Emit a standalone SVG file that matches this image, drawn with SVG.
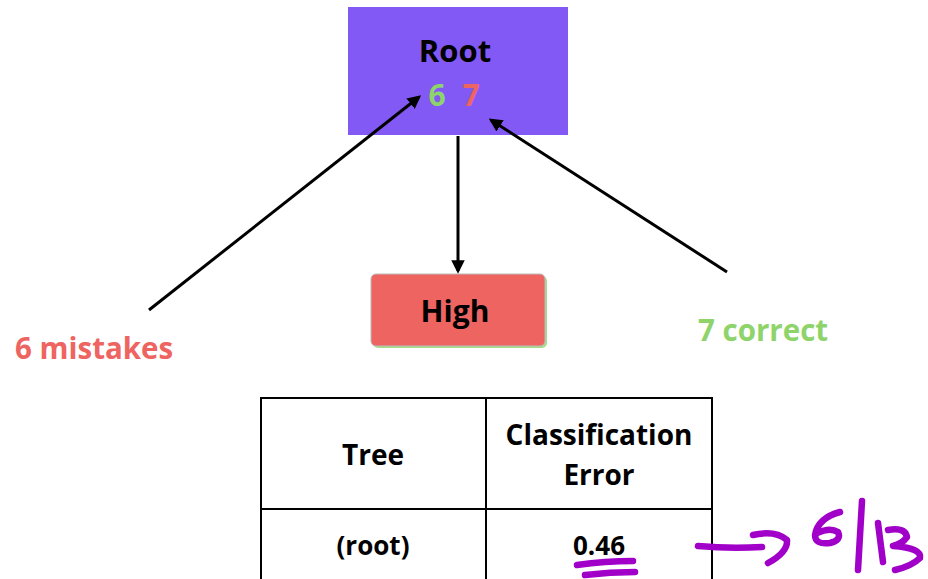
<svg xmlns="http://www.w3.org/2000/svg" width="928" height="579" viewBox="0 0 928 579">
  <style>
    .t { font-family: "Open Sans", "Noto Sans", "Liberation Sans", sans-serif; font-weight: 700; }
    .edge { stroke: #000; stroke-width: 3; fill: none; }
    .ink { stroke: #a000c8; stroke-width: 6.5; fill: none; stroke-linecap: round; stroke-linejoin: round; }
    .grid { stroke: #000; stroke-width: 2; fill: none; }
  </style>
  <defs>
    <marker id="arr" viewBox="0 0 10 10" refX="8" refY="5" markerWidth="4.5" markerHeight="4.5" orient="auto">
      <path d="M0,0 L10,5 L0,10 Z" fill="#000"/>
    </marker>
  </defs>
  <rect width="928" height="579" fill="#fff"/>

  <g id="root">
    <rect x="348" y="7" width="220" height="128" fill="#8259f4"/>
    <text class="t" x="455" y="62" font-size="31" text-anchor="middle" fill="#000">Root</text>
    <text class="t" x="437" y="106" font-size="30" text-anchor="middle" fill="#8ed46b">6</text>
    <text class="t" x="471" y="106" font-size="30" text-anchor="middle" fill="#ee6461">7</text>
  </g>

  <g id="high">
    <rect x="373" y="276" width="174" height="72" rx="5" fill="#8ed46b" opacity="0.8"/>
    <rect x="371" y="274" width="174" height="72" rx="5" fill="#ee6461" stroke="#bbb" stroke-width="1"/>
    <text class="t" x="455" y="322" font-size="30" text-anchor="middle" fill="#000">High</text>
  </g>

  <g id="mistakes-label">
    <text class="t" x="15" y="359" font-size="29.5" fill="#ee6461">6 mistakes</text>
  </g>
  <g id="correct-label">
    <text class="t" x="698" y="341" font-size="29.5" fill="#8ed46b">7 correct</text>
  </g>

  <g id="connectors">
    <line class="edge" x1="149" y1="310" x2="419" y2="97" marker-end="url(#arr)"/>
    <line class="edge" x1="727" y1="272" x2="491" y2="120" marker-end="url(#arr)"/>
    <line class="edge" x1="458" y1="136" x2="458" y2="271" marker-end="url(#arr)"/>
  </g>

  <g id="table">
    <rect class="grid" x="261" y="398" width="451" height="190"/>
    <line class="grid" x1="261" y1="509" x2="712" y2="509"/>
    <line class="grid" x1="486" y1="398" x2="486" y2="579"/>
    <text class="t" x="373" y="465" font-size="28" text-anchor="middle" fill="#000">Tree</text>
    <text class="t" x="599" y="445" font-size="28" text-anchor="middle" fill="#000">Classification</text>
    <text class="t" x="599" y="485" font-size="28" text-anchor="middle" fill="#000">Error</text>
    <text class="t" x="373" y="555" font-size="26" text-anchor="middle" fill="#000">(root)</text>
    <text class="t" x="599" y="555" font-size="26" text-anchor="middle" fill="#000">0.46</text>
  </g>

  <g id="annotation">
    <path class="ink" d="M577,565 Q605,561 633,561"/>
    <path class="ink" d="M585,575 Q610,572 635,572"/>
    <path class="ink" d="M698,546 Q730,549 762,547"/>
    <path class="ink" d="M753,535 Q775,530 787,540 Q788,552 768,563"/>
    <path class="ink" d="M840,512 Q818,518 815,535 Q815,545 830,543 Q842,540 838,532 Q830,527 817,533"/>
    <path class="ink" d="M862,501 L858,570"/>
    <path class="ink" d="M878,523 L883,562"/>
    <path class="ink" d="M888,530 Q905,527 907,537 Q902,544 893,546 Q922,548 920,558 Q912,566 895,570"/>
  </g>
</svg>
